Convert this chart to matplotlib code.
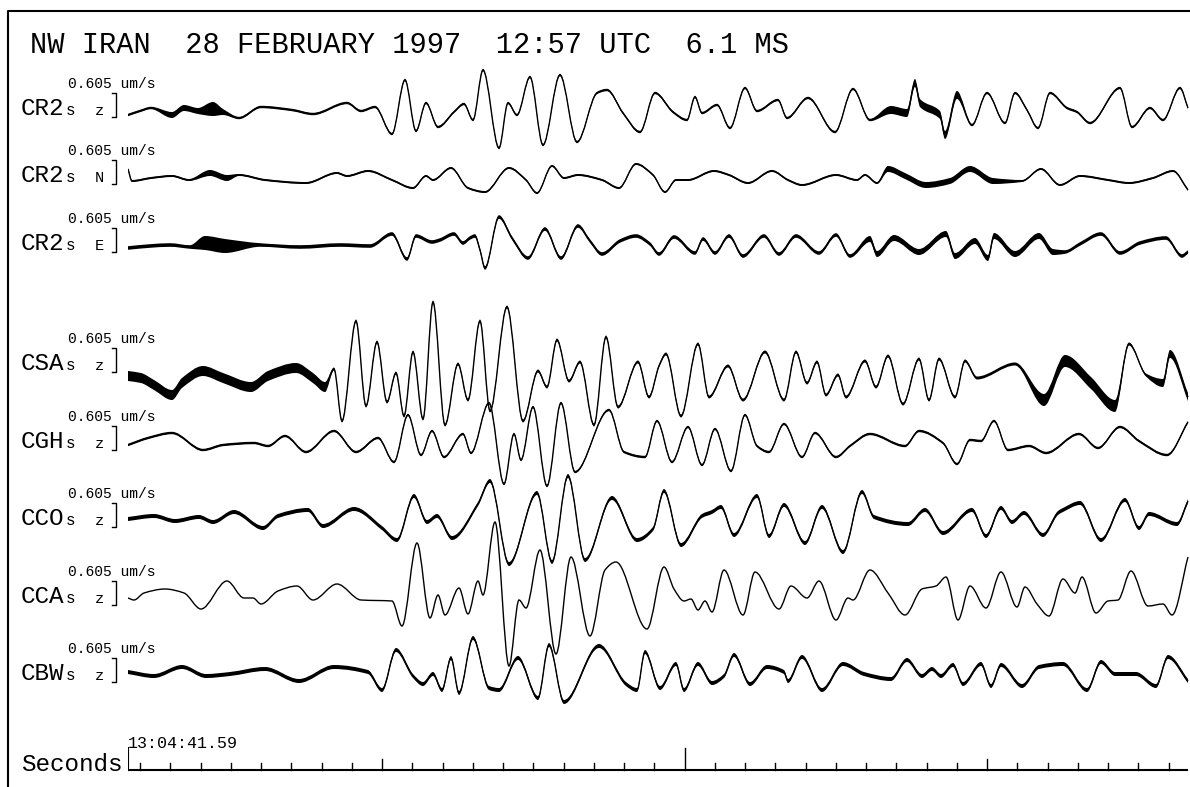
#!/usr/bin/env python3

import numpy as np
import matplotlib.pyplot as plt
from matplotlib.path import Path
from matplotlib.patches import PathPatch

plt.rcParams['font.family'] = ['Liberation Mono', 'DejaVu Sans Mono']

W, H = 1190, 787
SPS = 3.025              # samples per second
CAL = 0.605 / 24.0       # um/s per count (scale bar = 24 counts)
NSAMP = 1061

title = 'NW IRAN  28 FEBRUARY 1997  12:57 UTC  6.1 MS'
start_time = '13:04:41.59'
scale_label = '0.605 um/s'

stations = [ 'CR2', 'CR2', 'CR2', 'CSA', 'CGH', 'CCO', 'CCA', 'CBW' ]
comps    = [ 'z', 'N', 'E', 'z', 'z', 'z', 'z', 'z' ]

# (sample, counts) turning points of each record
cr2z = [ (0,-4),(12,0),(23,3),(44,-4),(56,3),(70,0),(85,2),(95,-1),(111,-7),
         (133,4),(164,1),(185,-3),(219,8),(233,0),(247,4),(264,-23),(277,31),
         (288,-20),(298,8),(310,-16),(326,-1),(336,7),(345,-9),(355,41),
         (371,-37),(380,8),(389,-4),(402,34),(415,-34),(432,36),(449,-31),
         (469,18),(479,21),(495,-2),(512,-21),(527,18),(545,-1),(559,-9),
         (567,14),(574,-2),(589,6),(602,-17),(617,23),(629,0),(650,11),
         (659,-7),(680,13),(707,-21),(725,22),(742,-9),(763,1),(779,-2),
         (787,28),(792,8),(812,-4),(817,-24),(829,16),(844,-14),(859,18),
         (877,-12),(887,18),(899,1),(910,-17),(922,18),(939,3),(949,-1),
         (962,-12),(992,23),(1004,-16),(1022,3),(1035,-9),(1052,23),(1060,3) ]

cr2n = [ (0,9),(4,-3),(23,0),(44,2),(61,-2),(82,5),(99,0),(111,3),(137,-2),
         (178,-5),(209,5),(219,2),(240,7),(264,-2),(285,-10),(298,2),(305,-2),
         (323,10),(340,-10),(357,-14),(381,10),(398,-2),(409,-15),(424,12),
         (436,0),(450,3),(474,-2),(491,-10),(508,14),(525,3),(537,-14),
         (548,-2),(560,-2),(586,7),(601,3),(620,-5),(644,7),(660,-2),(674,-7),
         (708,3),(729,-2),(737,3),(749,-5),(760,9),(777,2),(798,-7),(822,-3),
         (842,9),(865,-3),(894,-3),(913,9),(932,-7),(952,2),(980,-2),
         (1001,-5),(1025,0),(1045,7),(1060,-12) ]

cr2e = [ (0,-2),(22,0),(42,1),(62,-1),(77,3),(97,0),(132,1),(172,-1),(212,1),
         (242,0),(264,12),(279,-13),(288,10),(304,4),(312,6),(326,12),(335,3),
         (342,8),(347,10),(352,-4),(357,-22),(371,29),(384,8),(400,-12),
         (417,17),(433,-12),(450,20),(462,5),(474,-8),(492,5),(508,10),
         (522,2),(531,-8),(546,9),(567,-7),(575,7),(587,-7),(601,10),
         (615,-10),(636,10),(651,-8),(668,10),(691,-7),(708,11),(722,-10),
         (742,7),(749,-8),(766,8),(791,-6),(818,12),(827,-10),(847,5),
         (860,-12),(866,10),(887,-8),(911,10),(925,-6),(937,-6),(952,2),
         (973,12),(992,-7),(1012,3),(1038,8),(1054,-10),(1060,-6) ]

csaz = [ (0,2),(13,0),(26,-7),(44,-17),(54,-5),(75,7),(95,0),(123,-9),(140,2),
         (168,10),(185,0),(197,-9),(206,9),(214,-43),(228,57),(238,-28),
         (249,36),(259,-24),(268,5),(276,-38),(285,26),(295,-41),(305,76),
         (317,-47),(330,14),(340,-22),(352,57),(362,-33),(379,71),(395,-43),
         (410,7),(419,-9),(429,38),(441,-3),(452,16),(466,-47),(478,41),
         (490,-29),(510,16),(521,-19),(531,12),(538,24),(553,-38),(570,34),
         (581,-19),(600,12),(615,-22),(637,26),(656,-22),(668,26),(679,-5),
         (689,16),(698,-17),(710,3),(718,-19),(737,17),(748,-9),(760,22),
         (775,-26),(791,19),(801,-22),(811,19),(827,-19),(837,17),(849,0),
         (887,14),(916,-22),(937,17),(963,-5),(987,-28),(1001,34),(1018,3),
         (1035,-5),(1042,24),(1060,-19) ]

cghz = [ (0,-2),(20,5),(44,10),(75,-7),(95,-2),(126,0),(140,-3),(157,7),
         (178,-9),(206,12),(228,-9),(250,5),(266,-19),(280,28),(293,-12),
         (304,12),(316,-14),(335,9),(343,-10),(361,40),(376,-41),(386,9),
         (393,-17),(405,36),(419,-43),(433,40),(447,-29),(481,33),(496,-9),
         (517,-14),(529,22),(544,-19),(560,16),(574,-22),(587,14),(603,-28),
         (617,28),(629,-3),(641,-9),(656,19),(674,-14),(687,10),(708,-14),
         (722,-3),(742,9),(777,-3),(791,12),(815,0),(829,-21),(842,3),
         (853,2),(866,22),(880,-7),(901,-3),(918,-10),(951,9),(970,-5),
         (992,16),(1011,2),(1039,-12),(1060,21) ]

ccoz = [ (0,0),(26,3),(47,-2),(71,2),(85,-3),(106,7),(135,-9),(150,3),(180,9),
         (195,-7),(226,10),(254,-9),(269,-21),(286,23),(299,-3),(309,3),
         (324,-19),(350,15),(362,38),(381,-45),(409,26),(424,-43),(440,43),
         (457,-41),(484,21),(509,-21),(525,-10),(536,28),(553,-26),(574,3),
         (584,7),(593,12),(606,-16),(629,23),(641,-17),(656,14),(677,-24),
         (694,12),(715,-33),(734,27),(746,2),(780,-5),(797,9),(815,-14),
         (844,9),(858,-17),(873,11),(884,-3),(896,6),(915,-16),(930,6),
         (935,9),(952,16),(973,-21),(997,19),(1011,-9),(1021,5),(1049,-5),
         (1060,18) ]

ccaz = [ (0,0),(6,-2),(16,5),(37,9),(56,5),(73,-11),(99,17),(116,0),(125,0),
         (133,-6),(150,7),(169,12),(185,-2),(209,14),(233,-2),(264,-3),
         (274,-28),(289,55),(302,-20),(310,3),(317,-17),(331,10),(340,-16),
         (350,17),(355,3),(367,76),(381,-68),(391,-2),(398,-10),(412,48),
         (428,-56),(443,41),(462,-38),(477,28),(488,36),(519,-31),(536,31),
         (546,9),(556,-3),(563,-1),(570,-12),(577,-3),(584,-14),(596,28),
         (615,-17),(627,26),(651,-11),(663,12),(679,0),(691,17),(708,-22),
         (720,0),(725,-2),(742,28),(760,5),(777,-17),(794,9),(808,12),
         (818,21),(830,-22),(842,12),(858,-10),(873,26),(889,-9),(897,11),
         (909,-6),(921,-18),(935,19),(947,5),(954,21),(968,-15),(980,-3),
         (990,-2),(1003,27),(1020,-8),(1035,-6),(1044,-17),(1060,41) ]

cbwz = [ (0,2),(26,-2),(54,7),(78,-2),(102,0),(137,5),(171,-7),(206,7),
         (240,2),(254,-16),(268,24),(285,-2),(295,-10),(305,0),(314,-16),
         (323,16),(331,-19),(345,36),(361,-14),(371,-16),(390,16),(410,-24),
         (421,29),(436,-28),(471,28),(498,-10),(509,-16),(517,22),(532,-14),
         (548,10),(556,-16),(570,10),(584,-9),(596,-2),(606,19),(622,-10),
         (639,7),(656,2),(660,-7),(674,17),(694,-16),(715,10),(736,0),
         (763,-5),(779,14),(794,-2),(804,5),(813,-2),(825,9),(835,-10),
         (853,10),(863,-12),(873,9),(894,-12),(911,7),(935,10),(959,-16),
         (973,12),(987,0),(1008,0),(1028,-12),(1040,17),(1060,-7) ]

records = [ cr2z, cr2n, cr2e, csaz, cghz, ccoz, ccaz, cbwz ]

# background noise half-width (counts) and noisy bursts (first, last, half-width)
noise  = [ 1.2, 1.0, 1.8, 1.5, 1.2, 2.0, 0.0, 2.0 ]
bursts = [ [ (35,100,3), (75,92,7), (760,830,4) ],
           [ (70,100,3), (760,880,3) ],
           [ (65,100,7), (730,930,3) ],
           [ (0,205,5), (900,990,6), (1030,1060,4) ],
           [], [], [], [] ]

# trace baselines and label baselines, pixels from the top of the sheet
base_px  = [ 111, 178, 246, 378, 443, 519, 598, 674 ]
label_px = [ 115, 182, 250, 370, 448, 525, 603, 680 ]


def tangents( x, y ):
    # monotone cubic (Fritsch-Carlson) slopes, flat at turning points
    d = np.diff( y ) / np.diff( x )
    m = np.zeros_like( y )
    m[0], m[-1] = d[0], d[-1]
    for k in range( 1, len( y ) - 1 ):
        if d[k - 1] * d[k] > 0:
            m[k] = 2.0 / ( 1.0 / d[k - 1] + 1.0 / d[k] )
    return m


def curve( x, y ):
    m = tangents( x, y )
    verts = [ ( x[0], y[0] ) ]
    codes = [ Path.MOVETO ]
    for k in range( len( x ) - 1 ):
        h = ( x[k + 1] - x[k] ) / 3.0
        verts += [ ( x[k] + h, y[k] + m[k] * h ),
                   ( x[k + 1] - h, y[k + 1] - m[k + 1] * h ),
                   ( x[k + 1], y[k + 1] ) ]
        codes += [ Path.CURVE4 ] * 3
    return verts, codes


fig = plt.figure( figsize = ( W / 100, H / 100 ), dpi = 100 )

# sheet overlay in pixel units for frame and annotation
ov = fig.add_axes( [ 0, 0, 1, 1 ] )
ov.set_xlim( 0, W )
ov.set_ylim( H, 0 )
ov.axis( 'off' )

ov.plot( [ 8, 8, W ], [ H, 11, 11 ], color = 'k', lw = 1.5 )
ov.text( 30, 53, title, fontsize = 20.7, va = 'baseline', ha = 'left' )

for k in range( len( records ) ):
    b = label_px[k]
    ov.text( 21, b, stations[k], fontsize = 17.5, va = 'baseline' )
    ov.text( 66, b, 's', fontsize = 11.5, va = 'baseline' )
    ov.text( 95, b, comps[k], fontsize = 11, va = 'baseline' )
    ov.text( 68, b - 27, scale_label, fontsize = 10.5, va = 'baseline' )
    ov.plot( [ 112, 116, 116, 112 ], [ b - 22, b - 22, b + 2, b + 2 ],
             color = 'k', lw = 1.0 )

ov.text( 128, 748, start_time, fontsize = 12, va = 'baseline' )
ov.text( 21, 771, 'Seconds', fontsize = 17.5, va = 'baseline' )

# seismograms, time in seconds, amplitude in um/s
ax = fig.add_axes( [ 128 / W, 0, NSAMP / W, 1 ] )
ax.set_xlim( 0, NSAMP / SPS )
ax.set_ylim( -H * CAL, 0 )
ax.axis( 'off' )

for k, rec in enumerate( records ):
    i, c = np.array( rec, dtype = float ).T
    t = i / SPS
    y = ( c - base_px[k] ) * CAL
    w = np.full( len( i ), noise[k] )
    for a, e, h in bursts[k]:
        sel = ( i >= a ) & ( i <= e )
        w[sel] = np.maximum( w[sel], h )
    if w.max() > 0:
        vu, cu = curve( t, y + w * CAL )
        vl, cl = curve( t[::-1], ( y - w * CAL )[::-1] )
        cl[0] = Path.LINETO
        band = Path( vu + vl + [ vu[0] ], cu + cl + [ Path.CLOSEPOLY ] )
        ax.add_patch( PathPatch( band, facecolor = 'k', edgecolor = 'none' ) )
    v, cd = curve( t, y )
    ax.add_patch( PathPatch( Path( v, cd ), facecolor = 'none',
                             edgecolor = 'k', lw = 1.0 ) )

# time scale
y0 = -770 * CAL
ax.plot( [ 0, ( NSAMP - 2 ) / SPS ], [ y0, y0 ], color = 'k', lw = 1.5 )
ax.plot( [ 0, 0 ], [ y0, y0 + 22 * CAL ], color = 'k', lw = 1.5 )
ticks = np.arange( 4, NSAMP / SPS - 2, 10 )
for n, tt in enumerate( ticks ):
    h = 7
    if n in ( 8, 28 ):
        h = 11
    if n == 18:
        h = 22
    ax.plot( [ tt, tt ], [ y0, y0 + h * CAL ], color = 'k', lw = 1.0 )

fig.savefig( 'out.png', dpi = 100 )
plt.close()
